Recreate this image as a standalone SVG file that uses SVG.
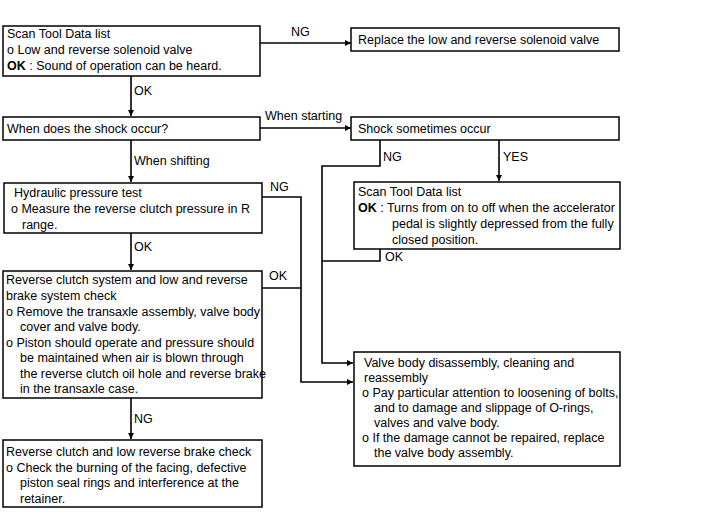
<svg xmlns="http://www.w3.org/2000/svg" width="720" height="531" viewBox="0 0 720 531">
<defs>
<style>
.box{fill:#fff;stroke:#000;stroke-width:1.5}
.t{font-family:"Liberation Sans",Arial,sans-serif;font-size:12.5px;fill:#000}
.b{font-weight:bold}
.ln{fill:none;stroke:#000;stroke-width:1.6}
</style>
<marker id="ah" viewBox="0 0 10 10" refX="10" refY="5" markerWidth="6" markerHeight="6" markerUnits="userSpaceOnUse" orient="auto">
<path d="M0,0 L10,5 L0,10 z" fill="#000"/>
</marker>
</defs>
<rect width="720" height="531" fill="#fff"/>
<g id="connectors">
<path class="ln" d="M131,76 V116" marker-end="url(#ah)"/>
<path class="ln" d="M131,140 V182" marker-end="url(#ah)"/>
<path class="ln" d="M131,233 V270" marker-end="url(#ah)"/>
<path class="ln" d="M131,398 V439" marker-end="url(#ah)"/>
<path class="ln" d="M260,43 H351" marker-end="url(#ah)"/>
<path class="ln" d="M260,128 H351" marker-end="url(#ah)"/>
<path class="ln" d="M499,140 V181" marker-end="url(#ah)"/>
<path class="ln" d="M380,140 V166 H322 V363 H353" marker-end="url(#ah)"/>
<path class="ln" d="M380,249 V261 H322"/>
<path class="ln" d="M262,197 H301 V382 H353" marker-end="url(#ah)"/>
<path class="ln" d="M262,288 H301"/>
<text class="t" x="134" y="95">OK</text>
<text class="t" x="134" y="165">When shifting</text>
<text class="t" x="134" y="251">OK</text>
<text class="t" x="134" y="423">NG</text>
<text class="t" x="291" y="36">NG</text>
<text class="t" x="265" y="120">When starting</text>
<text class="t" x="503" y="161">YES</text>
<text class="t" x="383" y="161">NG</text>
<text class="t" x="385" y="261">OK</text>
<text class="t" x="270" y="191">NG</text>
<text class="t" x="269" y="280">OK</text>
</g>
<g id="n1">
<rect class="box" x="3" y="26" width="257" height="50"/>
<text class="t" x="7" y="38">Scan Tool Data list</text>
<text class="t" x="7" y="54">o Low and reverse solenoid valve</text>
<text class="t" x="7" y="70"><tspan class="b">OK</tspan> : Sound of operation can be heard.</text>
</g>
<g id="n2">
<rect class="box" x="351" y="28" width="268" height="23"/>
<text class="t" x="358" y="44">Replace the low and reverse solenoid valve</text>
</g>
<g id="n3">
<rect class="box" x="3" y="117" width="257" height="23"/>
<text class="t" x="7" y="133">When does the shock occur?</text>
</g>
<g id="n4">
<rect class="box" x="351" y="117" width="268" height="23"/>
<text class="t" x="358" y="133">Shock sometimes occur</text>
</g>
<g id="n5">
<rect class="box" x="4" y="183" width="258" height="50"/>
<text class="t" x="14" y="197">Hydraulic pressure test</text>
<text class="t" x="11" y="213">o Measure the reverse clutch pressure in R</text>
<text class="t" x="22" y="229">range.</text>
</g>
<g id="n6">
<rect class="box" x="354" y="182" width="266" height="67"/>
<text class="t" x="358" y="196">Scan Tool Data list</text>
<text class="t" x="358" y="212"><tspan class="b">OK</tspan> : Turns from on to off when the accelerator</text>
<text class="t" x="392" y="228">pedal is slightly depressed from the fully</text>
<text class="t" x="392" y="244">closed position.</text>
</g>
<g id="n7">
<rect class="box" x="3" y="271" width="259" height="127"/>
<text class="t" x="6" y="284">Reverse clutch system and low and reverse</text>
<text class="t" x="6" y="300">brake system check</text>
<text class="t" x="6" y="315.5">o Remove the transaxle assembly, valve body</text>
<text class="t" x="20" y="331">cover and valve body.</text>
<text class="t" x="6" y="346.5">o Piston should operate and pressure should</text>
<text class="t" x="20" y="362">be maintained when air is blown through</text>
<text class="t" x="20" y="377.5">the reverse clutch oil hole and reverse brake</text>
<text class="t" x="20" y="393">in the transaxle case.</text>
</g>
<g id="n8">
<rect class="box" x="354" y="352" width="266" height="114"/>
<text class="t" x="364" y="367">Valve body disassembly, cleaning and</text>
<text class="t" x="364" y="382">reassembly</text>
<text class="t" x="362" y="397">o Pay particular attention to loosening of bolts,</text>
<text class="t" x="374" y="412">and to damage and slippage of O-rings,</text>
<text class="t" x="374" y="427">valves and valve body.</text>
<text class="t" x="362" y="442">o If the damage cannot be repaired, replace</text>
<text class="t" x="374" y="457">the valve body assembly.</text>
</g>
<g id="n9">
<rect class="box" x="3" y="440" width="259" height="67"/>
<text class="t" x="6" y="456">Reverse clutch and low reverse brake check</text>
<text class="t" x="6" y="471.5">o Check the burning of the facing, defective</text>
<text class="t" x="20" y="487">piston seal rings and interference at the</text>
<text class="t" x="20" y="502.5">retainer.</text>
</g>
</svg>
